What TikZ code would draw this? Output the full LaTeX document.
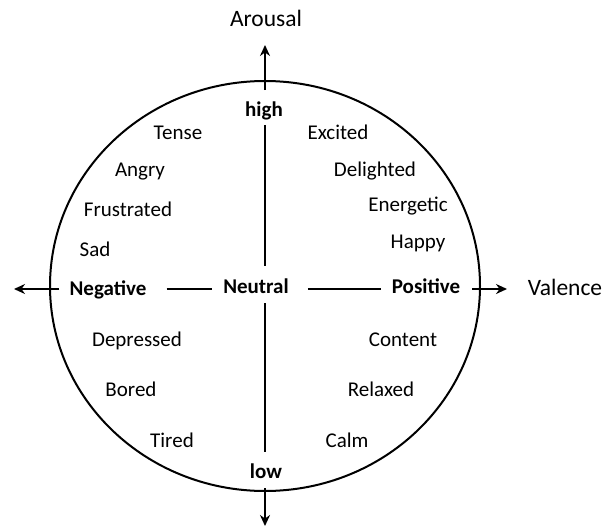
\documentclass[tikz,border=0pt]{standalone}
\usepackage{fontspec}
\setmainfont{Carlito}
\usetikzlibrary{calc,arrows.meta}
\begin{document}
\begin{tikzpicture}[x=1pt,y=-1pt,
  lbl/.style={anchor=base,inner sep=0pt,font=\fontsize{21}{25}\selectfont},
  blbl/.style={anchor=base,inner sep=0pt,font=\fontsize{21}{25}\selectfont\bfseries},
  big/.style={anchor=base,inner sep=0pt,font=\fontsize{23.5}{28}\selectfont},
  ax/.style={line width=2.8pt},
  axarr/.style={ax,-{Stealth[length=11pt,width=10pt]}}]
\useasboundingbox (0,0) rectangle (613,527);
% circle
\draw[line width=2pt] (265,286) ellipse [x radius=215pt, y radius=205pt];
% reference points
\coordinate (O) at (265,289);
\coordinate (topTip) at (265,45);
\coordinate (botTip) at (265,526);
\coordinate (leftTip) at (14,289);
\coordinate (rightTip) at (507,289);
% axis labels
\node[big] (arousal) at (266,27) {Arousal};
\node[big] (valence) at (565,295) {Valence};
\node[blbl] (high) at (264,116) {high};
\node[blbl] (low) at (266,478) {low};
\node[blbl] (neg) at (108,295) {Negative};
\node[blbl] (neu) at (256,293) {Neutral};
\node[blbl] (pos) at (426,293) {Positive};
% emotions
\node[lbl] (tense) at (178,139) {Tense};
\node[lbl] (angry) at (140,176) {Angry};
\node[lbl] (frus) at (128,216) {Frustrated};
\node[lbl] (sad) at (95,256) {Sad};
\node[lbl] (excited) at (338,139) {Excited};
\node[lbl] (delight) at (375,176) {Delighted};
\node[lbl] (energ) at (408,211) {Energetic};
\node[lbl] (happy) at (418,248) {Happy};
\node[lbl] (depr) at (137,346) {Depressed};
\node[lbl] (bored) at (131,396) {Bored};
\node[lbl] (tired) at (172,447) {Tired};
\node[lbl] (content) at (403,346) {Content};
\node[lbl] (relaxed) at (381,396) {Relaxed};
\node[lbl] (calm) at (347,447) {Calm};
% vertical axis
\draw[axarr] ($(high.north -| O)+(0,-11)$) -- (topTip);
\draw[ax] ($(high.south -| O)+(0,5)$) -- ($(neu.north -| O)+(0,-12)$);
\draw[ax] ($(neu.south -| O)+(0,10)$) -- ($(low.north -| O)+(0,-11)$);
\draw[axarr] ($(low.south -| O)+(0,10)$) -- (botTip);
% horizontal axis
\draw[axarr] ($(neg.west |- O)+(-10,0)$) -- (leftTip);
\draw[ax] ($(neg.east |- O)+(20,0)$) -- ($(neu.west |- O)+(-11,0)$);
\draw[ax] ($(neu.east |- O)+(19,0)$) -- ($(pos.west |- O)+(-11,0)$);
\draw[axarr] ($(pos.east |- O)+(12,0)$) -- (rightTip);
\end{tikzpicture}
\end{document}
